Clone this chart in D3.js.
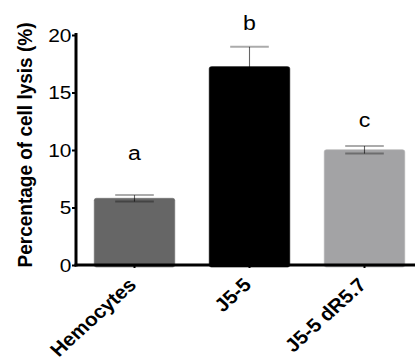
<!DOCTYPE html>
<html>
<head>
<meta charset="utf-8">
<script src="https://d3js.org/d3.v7.min.js"></script>
<style>
  html, body { margin: 0; padding: 0; background: #fff; }
  svg { display: block; }
  text { font-family: "Liberation Sans", Arial, Helvetica, sans-serif; }
</style>
</head>
<body>
<svg id="chart" width="415" height="360"></svg>
<script>
// ---- data ----
const categories = ["Hemocytes", "J5-5", "J5-5 dR5.7"];
const means = [5.8, 17.25, 10.02];
const sems = [0.28, 1.72, 0.33];
const letters = ["a", "b", "c"];
const letterAt = [9.1, 20.4, 12.0];
const barColors = ["#666666", "#000000", "#a3a3a5"];
const yTicks = [0, 5, 10, 15, 20];
const yTitle = "Percentage of cell lysis (%)";

// ---- layout ----
const SX = 1.1;                 // horizontal stretch of the original figure
const W = 415 / SX, H = 360;
const axisX = 76 / SX;          // y-axis position
const y0 = 265, yTop = 35;

const svg = d3.select("#chart");
const g = svg.append("g").attr("transform", `scale(${SX},1)`);

const x = d3.scaleBand()
  .domain(categories)
  .range([77 / SX, 422 / SX])
  .paddingInner(0.3)
  .paddingOuter(0.15);

const y = d3.scaleLinear().domain([0, 20]).range([y0, yTop]);

// bars
g.selectAll("rect.bar")
  .data(categories)
  .join("rect")
  .attr("class", "bar")
  .attr("x", d => x(d))
  .attr("width", x.bandwidth())
  .attr("y", (d, i) => y(means[i]))
  .attr("height", (d, i) => y0 - y(means[i]) + 2)
  .attr("rx", 2)
  .attr("fill", (d, i) => barColors[i])
  .attr("stroke", (d, i) => d3.color(barColors[i]).brighter(0.25))
  .attr("stroke-width", 0.6);

// error bars
const capW = x.bandwidth() * 0.48;
const eb = g.selectAll("g.err").data(categories).join("g").attr("class", "err");
eb.append("line")
  .attr("x1", d => x(d) + x.bandwidth() / 2)
  .attr("x2", d => x(d) + x.bandwidth() / 2)
  .attr("y1", (d, i) => y(means[i] - sems[i]))
  .attr("y2", (d, i) => y(means[i] + sems[i]))
  .attr("stroke", "#000").attr("stroke-opacity", 0.6).attr("stroke-width", 1);
[1, -1].forEach(sgn => {
  eb.append("line")
    .attr("x1", d => x(d) + x.bandwidth() / 2 - capW / 2)
    .attr("x2", d => x(d) + x.bandwidth() / 2 + capW / 2)
    .attr("y1", (d, i) => y(means[i] + sgn * sems[i]))
    .attr("y2", (d, i) => y(means[i] + sgn * sems[i]))
    .attr("stroke", "#000").attr("stroke-opacity", 0.33).attr("stroke-width", 2);
});

// significance letters
g.selectAll("text.letter")
  .data(categories)
  .join("text")
  .attr("class", "letter")
  .attr("x", d => x(d) + x.bandwidth() / 2)
  .attr("y", (d, i) => y(letterAt[i]))
  .attr("text-anchor", "middle")
  .attr("font-size", 21)
  .attr("fill", "#000")
  .text((d, i) => letters[i]);

// y axis
const yAxis = g.append("g")
  .attr("transform", `translate(${axisX},0)`)
  .call(d3.axisLeft(y).tickValues(yTicks).tickFormat(d3.format("d")).tickSize(4 / SX).tickPadding(0.5));
yAxis.select(".domain").remove();
yAxis.selectAll(".tick line").attr("stroke", "#000").attr("stroke-width", 2);
yAxis.selectAll(".tick text")
  .attr("font-size", 19)
  .attr("fill", "#000")
  .attr("font-family", "'Liberation Sans', Arial, sans-serif");
g.append("line")
  .attr("x1", axisX).attr("x2", axisX)
  .attr("y1", yTop - 2).attr("y2", y0 + 1.5)
  .attr("stroke", "#000").attr("stroke-width", 3 / SX);

// x axis
const xAxis = g.append("g")
  .attr("transform", `translate(0,${y0})`)
  .call(d3.axisBottom(x).tickSize(3).tickFormat(""));
xAxis.select(".domain").remove();
xAxis.selectAll(".tick line").attr("stroke", "#000").attr("stroke-width", 2 / SX);
g.append("line")
  .attr("x1", axisX - 1.5 / SX).attr("x2", W)
  .attr("y1", y0).attr("y2", y0)
  .attr("stroke", "#000").attr("stroke-width", 3);

// category labels
g.selectAll("text.cat")
  .data(categories)
  .join("text")
  .attr("class", "cat")
  .attr("transform", d => `translate(${x(d) + x.bandwidth() / 2 + 3 / SX},${y0 + 21}) rotate(-45)`)
  .attr("text-anchor", "end")
  .attr("font-size", 19)
  .attr("font-weight", "bold")
  .attr("fill", "#000")
  .text(d => d);

// y title
g.append("text")
  .attr("transform", `translate(${31.5 / SX},${(y0 + 25) / 2 + 0}) rotate(-90)`)
  .attr("text-anchor", "middle")
  .attr("font-size", 19)
  .attr("font-weight", "bold")
  .attr("fill", "#000")
  .text(yTitle);
</script>
</body>
</html>
